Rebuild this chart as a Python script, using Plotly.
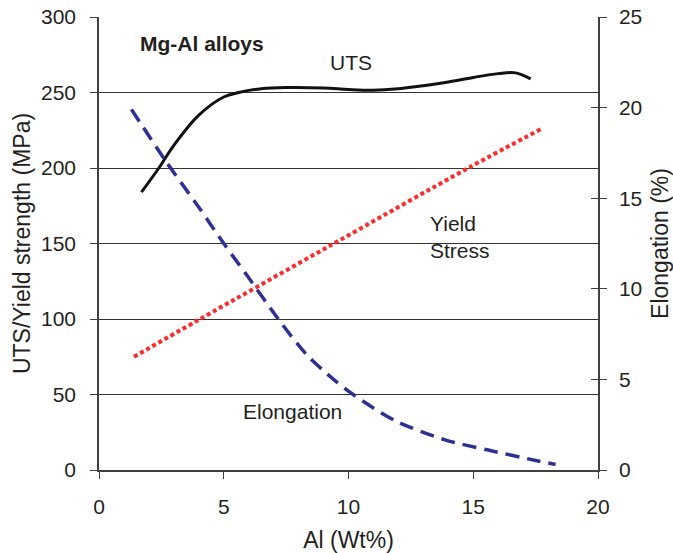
import plotly.graph_objects as go

# Data
uts_x = [1.7, 2.4, 3.0, 4.0, 5.0, 5.6, 6.5, 7.5, 9.0, 10.0, 11.0, 12.0, 13.0, 14.0, 15.0, 16.0, 16.7, 17.3]
uts_y = [184, 200, 215, 235, 247, 250, 252.5, 253.3, 253, 252, 251.5, 252.5, 254.5, 257, 260, 262.5, 263, 259]

ys_x = [1.4, 4.0, 9.2, 14.8, 17.8]
ys_y = [75, 99.5, 148, 200, 226.5]

el_x = [1.3, 2.7, 4.0, 5.0, 5.9, 7.2, 8.3, 9.4, 10.2, 11.9, 13.9, 15.6, 17.6, 18.3]
el_y = [19.9, 17.0, 14.5, 12.5, 10.8, 8.3, 6.4, 5.0, 4.15, 2.7, 1.65, 1.1, 0.5, 0.3]

x_ticks = [0, 5, 10, 15, 20]
left_ticks = [0, 50, 100, 150, 200, 250, 300]
right_ticks = [0, 5, 10, 15, 20, 25]

FONT = "Arial, Liberation Sans, sans-serif"
TXT = "#231f20"
AX = "#404040"

fig = go.Figure()
fig.add_trace(go.Scatter(x=uts_x, y=uts_y, mode="lines", line=dict(color="#111111", width=3, shape="spline", smoothing=1.0), name="UTS"))
fig.add_trace(go.Scatter(x=ys_x, y=ys_y, mode="lines", line=dict(color="#ff2a2a", width=4, dash="4px,3px", shape="spline"), name="Yield Stress"))
fig.add_trace(go.Scatter(x=el_x, y=el_y, mode="lines", line=dict(color="#2e3192", width=3.5, dash="14px,8px", shape="spline", smoothing=0.8), name="Elongation", yaxis="y2"))
# invisible trace to activate the inside tick axis
fig.add_trace(go.Scatter(x=[None], y=[None], yaxis="y3", showlegend=False))

fig.update_layout(
    width=673, height=553,
    margin=dict(l=99, r=75, t=16.5, b=83),
    paper_bgcolor="white", plot_bgcolor="white",
    showlegend=False,
    font=dict(family=FONT, size=21, color=TXT),
    xaxis=dict(range=[0, 20], tickvals=x_ticks, ticks="outside", ticklen=7, tickcolor=AX,
               showline=True, linecolor=AX, linewidth=1.5, showgrid=False, zeroline=False,
               ticklabelstandoff=10, automargin=False,
               title=dict(text="Al (Wt%)", font=dict(size=23), standoff=16)),
    yaxis=dict(range=[0, 300], tickvals=left_ticks, ticks="outside", ticklen=7, tickcolor=AX,
               showline=True, linecolor=AX, linewidth=1.5, showgrid=True, gridcolor="#333333",
               gridwidth=1.2, zeroline=False, ticklabelstandoff=10, automargin=False,
               title=dict(text="UTS/Yield strength (MPa)", font=dict(size=23), standoff=4)),
    yaxis2=dict(range=[0, 25], tickvals=right_ticks, overlaying="y", side="right", ticks="outside",
                ticklen=7, tickcolor=AX, showline=True, linecolor=AX, linewidth=1.5, showgrid=False,
                zeroline=False, ticklabelstandoff=8, automargin=False,
                title=dict(text="Elongation (%)", font=dict(size=23), standoff=16)),
    yaxis3=dict(range=[0, 25], tickvals=right_ticks, overlaying="y", side="right", ticks="inside",
                ticklen=7, tickcolor=AX, showline=False, showgrid=False, zeroline=False,
                showticklabels=False, automargin=False),
    annotations=[
        dict(x=1.56, y=282.6, xref="x", yref="y", text="<b>Mg-Al alloys</b>", showarrow=False,
             xanchor="left", yanchor="middle", font=dict(size=21, color=TXT)),
        dict(x=10.08, y=270, xref="x", yref="y", text="UTS", showarrow=False,
             xanchor="center", yanchor="middle"),
        dict(x=13.2, y=154.5, xref="x", yref="y", text="Yield<br>Stress", showarrow=False,
             xanchor="left", yanchor="middle", align="left"),
        dict(x=5.71, y=38.6, xref="x", yref="y", text="Elongation", showarrow=False,
             xanchor="left", yanchor="middle"),
    ],
)

fig.write_html("out.html")
